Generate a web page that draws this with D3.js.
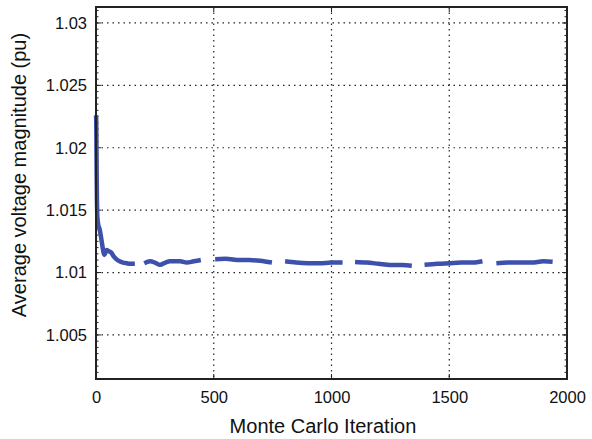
<!DOCTYPE html>
<html>
<head>
<meta charset="utf-8">
<script src="https://cdn.jsdelivr.net/npm/d3@7"></script>
<style>
  body { margin: 0; background: #fff; }
  svg { display: block; font-family: "Liberation Sans", Arial, sans-serif; }
</style>
</head>
<body>
<div id="chart"></div>
<script>
// iterations / averaged voltage, null marks a gap in the trace
const iterations = [
  0, 1, 2, 3, 4, 5, 7, 10, 15, 20, 25, 30, 35, 40, 45, 55, 65, 75, 85, 100, 115, 130, 145, 165, null,
  205, 230, 250, 272, 295, 314, 335, 357, 385, 415, 445, null,
  506, 550, 612, 650, 697, 747, null,
  803, 850, 900, 950, 1000, 1047, null,
  1100, 1150, 1200, 1250, 1300, 1341, null,
  1395, 1450, 1500, 1550, 1600, 1641, null,
  1700, 1750, 1800, 1850, 1900, 1939
];
const voltage = [
  1.0226, 1.0222, 1.0200, 1.0175, 1.0158, 1.0148, 1.0142, 1.0138, 1.0135, 1.0130, 1.0124, 1.0118, 1.0114, 1.0116, 1.0118, 1.0117, 1.0116, 1.0113, 1.0111, 1.0109, 1.0108, 1.01075, 1.0107, 1.0107, null,
  1.01075, 1.0109, 1.0108, 1.01062, 1.0108, 1.0109, 1.0109, 1.0109, 1.0108, 1.0109, 1.0110, null,
  1.01107, 1.0111, 1.0110, 1.0110, 1.01094, 1.0108, null,
  1.0109, 1.0108, 1.01075, 1.01075, 1.0108, 1.0108, null,
  1.01085, 1.0108, 1.0107, 1.0106, 1.0106, 1.01055, null,
  1.01062, 1.0107, 1.01075, 1.0108, 1.0108, 1.0109, null,
  1.01075, 1.0108, 1.0108, 1.0108, 1.0109, 1.01086
];
const xTicks = [0, 500, 1000, 1500, 2000];
const yTicks = [1.005, 1.01, 1.015, 1.02, 1.025, 1.03];

const width = 592, height = 439;
const margin = { top: 7, right: 25, bottom: 60, left: 96 };
const innerW = width - margin.left - margin.right;
const innerH = height - margin.top - margin.bottom;

const svg = d3.select("#chart").append("svg")
  .attr("width", width)
  .attr("height", height);

const g = svg.append("g").attr("transform", `translate(${margin.left},${margin.top})`);

const x = d3.scaleLinear().domain([0, 2000]).range([0, innerW]);
const y = d3.scaleLinear().domain([1.00147, 1.03128]).range([innerH, 0]);

// dotted grid
g.append("g")
  .selectAll("line")
  .data(xTicks.slice(1, -1))
  .join("line")
  .attr("x1", (d) => x(d)).attr("x2", (d) => x(d))
  .attr("y1", 0).attr("y2", innerH)
  .attr("stroke", "#222").attr("stroke-width", 1.2)
  .attr("stroke-dasharray", "1.5,4");

g.append("g")
  .selectAll("line")
  .data(yTicks)
  .join("line")
  .attr("x1", 0).attr("x2", innerW)
  .attr("y1", (d) => y(d)).attr("y2", (d) => y(d))
  .attr("stroke", "#222").attr("stroke-width", 1.2)
  .attr("stroke-dasharray", "1.5,4");

// minor ticks on y every 0.0005, both sides
const minor = d3.range(1.0015, 1.0313, 0.0005);
const tickG = g.append("g").attr("stroke", "#222").attr("stroke-width", 1);
tickG.selectAll(".mn").data(minor).join("path")
  .attr("class", "mn")
  .attr("d", (d) => `M0,${y(d)}h2.5M${innerW},${y(d)}h-2.5`);
tickG.selectAll(".mj").data(yTicks).join("path")
  .attr("class", "mj")
  .attr("d", (d) => `M0,${y(d)}h5M${innerW},${y(d)}h-5`);
tickG.selectAll(".xt").data(xTicks).join("path")
  .attr("class", "xt")
  .attr("d", (d) => `M${x(d)},${innerH}v-5M${x(d)},0v5`);

// axes labels
const xAxis = d3.axisBottom(x).tickValues(xTicks).tickSize(0).tickPadding(12)
  .tickFormat(d3.format("d"));
g.append("g")
  .attr("transform", `translate(0,${innerH})`)
  .call(xAxis)
  .call((s) => s.select(".domain").remove())
  .selectAll("text")
  .attr("font-size", 16.5)
  .attr("fill", "#111")
  .attr("font-family", "Liberation Sans, Arial, sans-serif");

const yAxis = d3.axisLeft(y).tickValues(yTicks).tickSize(0).tickPadding(9)
  .tickFormat((d) => String(+d.toFixed(3)));
g.append("g")
  .call(yAxis)
  .call((s) => s.select(".domain").remove())
  .selectAll("text")
  .attr("font-size", 16.5)
  .attr("fill", "#111")
  .attr("font-family", "Liberation Sans, Arial, sans-serif");

// data trace
const points = iterations.map((it, i) => ({ it, v: voltage[i] }));
const line = d3.line()
  .defined((d) => d.it !== null && d.v !== null)
  .x((d) => x(d.it))
  .y((d) => y(d.v))
  .curve(d3.curveMonotoneX);

g.append("path")
  .datum(points)
  .attr("fill", "none")
  .attr("stroke", "#3d50ac")
  .attr("stroke-width", 4.5)
  .attr("stroke-linejoin", "round")
  .attr("d", line);

// box
g.append("rect")
  .attr("width", innerW).attr("height", innerH)
  .attr("fill", "none")
  .attr("stroke", "#222")
  .attr("stroke-width", 2);

svg.append("text")
  .attr("x", 323)
  .attr("y", 433)
  .attr("text-anchor", "middle")
  .attr("font-size", 20)
  .attr("fill", "#111")
  .text("Monte Carlo Iteration");

svg.append("text")
  .attr("transform", "translate(26,175) rotate(-90)")
  .attr("text-anchor", "middle")
  .attr("font-size", 20)
  .attr("fill", "#111")
  .text("Average voltage magnitude (pu)");
</script>
</body>
</html>
